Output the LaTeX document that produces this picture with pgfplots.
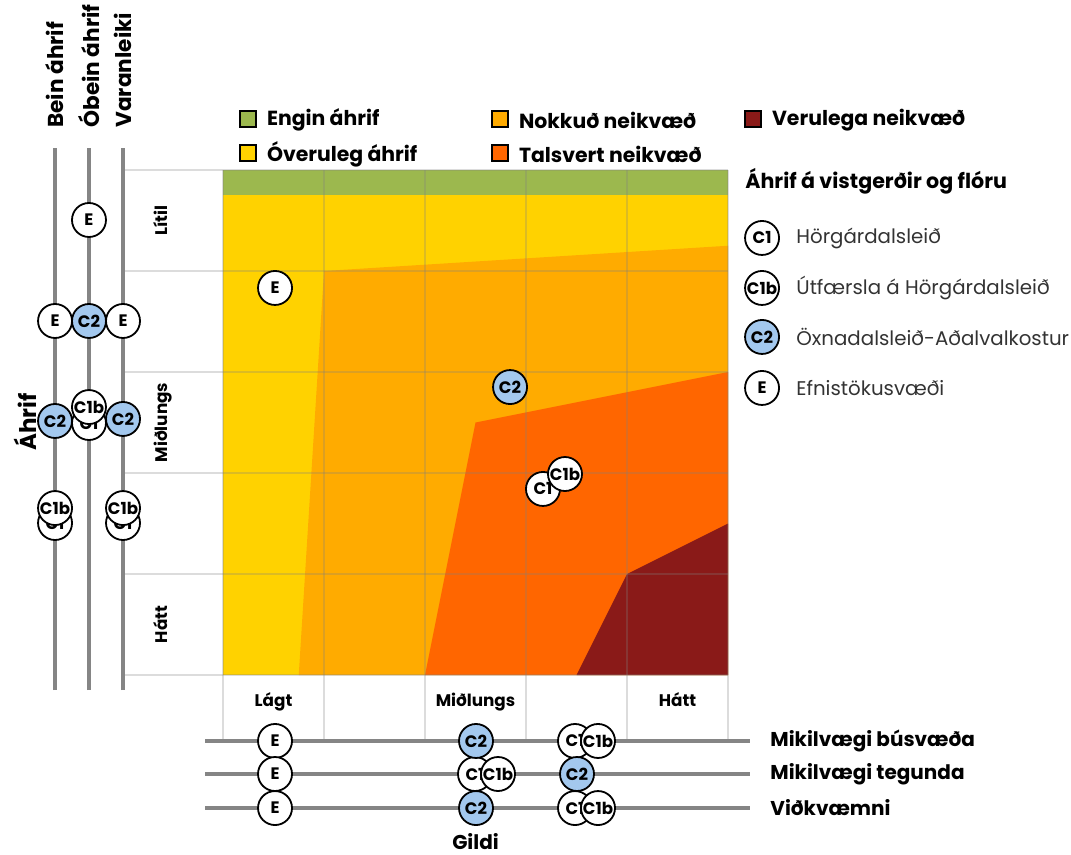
\documentclass[border=0pt]{standalone}
\usepackage{fontspec}
\setmainfont{Poppins}
\usepackage{pgfplots}
\pgfplotsset{compat=1.18}
\definecolor{cgreen}{HTML}{9CB84E}
\definecolor{cyellow}{HTML}{FFD200}
\definecolor{corange}{HTML}{FFAB00}
\definecolor{ctals}{HTML}{FF6600}
\definecolor{cdark}{HTML}{8A1A18}
\definecolor{cblue}{HTML}{A3C8EE}
\definecolor{cline}{HTML}{858585}
\definecolor{ctext}{HTML}{333333}
\pgfplotsset{
  bub/.style={only marks, mark=*, mark size=1pt, color=black,
    nodes near coords, point meta=explicit symbolic,
    every node near coord/.append style={circle, draw=black, line width=0.9pt,
      fill=#1, minimum size=17pt, inner sep=0pt, anchor=center, text=black,
      font=\bfseries\fontsize{8.3}{9}\selectfont}},
  sq/.style={only marks, mark=square*, mark size=4.1pt,
    mark options={fill=#1, draw=black, line width=1pt},
    nodes near coords, point meta=explicit symbolic,
    every node near coord/.append style={anchor=west, xshift=9pt, yshift=-0.6pt, inner sep=0pt,
      text=black, font=\bfseries\fontsize{10.2}{12}\selectfont}},
  grd/.style={black!50, opacity=0.28, line width=0.7pt},
  thk/.style={cline, line width=1.6pt},
}
\begin{document}
\begin{tikzpicture}
\begin{axis}[name=ax, scale only axis, width=535.5pt, height=427pt,
  xmin=-2.208, xmax=8.396, ymin=-1.772, ymax=6.683, hide axis, clip=false]

% impact zones
\addplot[fill=cyellow, draw=none] coordinates {(0,0) (5,0) (5,5) (0,5)};
\addplot[fill=corange, draw=none] coordinates {(0.75,0) (1,4) (5,4.25) (5,0)};
\addplot[fill=ctals, draw=none] coordinates {(2,0) (2.5,2.5) (5,3) (5,0)};
\addplot[fill=cdark, draw=none] coordinates {(3.5,0) (4,1) (5,1.5) (5,0)};
\addplot[fill=cgreen, draw=none] coordinates {(0,4.75) (5,4.75) (5,5) (0,5)};

% grid
\pgfplotsinvokeforeach{0,...,5}{
  \addplot[grd] coordinates {(#1,-0.653) (#1,5)};
  \addplot[grd] coordinates {(-0.97,#1) (5,#1)};
}

% side scales
\addplot[thk] coordinates {(-1.663,-0.149) (-1.663,5.218)};
\addplot[thk] coordinates {(-1.327,-0.149) (-1.327,5.218)};
\addplot[thk] coordinates {(-0.990,-0.149) (-0.990,5.218)};
\addplot[thk] coordinates {(-0.178,-0.653) (5.218,-0.653)};
\addplot[thk] coordinates {(-0.178,-0.980) (5.218,-0.980)};
\addplot[thk] coordinates {(-0.178,-1.317) (5.218,-1.317)};

% points
\addplot[bub=white] coordinates {
  (3.168,1.842) [C1]
  (-1.663,1.505) [C1] (-1.327,2.495) [C1] (-0.990,1.505) [C1]
  (3.485,-0.653) [C1] (2.495,-0.980) [C1] (3.485,-1.317) [C1]
  (5.337,4.327) [C1]
};
\addplot[bub=white] coordinates {
  (3.386,1.990) [C1b]
  (-1.663,1.653) [C1b] (-1.327,2.653) [C1b] (-0.990,1.653) [C1b]
  (3.713,-0.653) [C1b] (2.723,-0.980) [C1b] (3.713,-1.317) [C1b]
  (5.337,3.832) [C1b]
};
\addplot[bub=cblue] coordinates {
  (2.842,2.851) [C2]
  (-1.663,2.515) [C2] (-1.327,3.505) [C2] (-0.990,2.535) [C2]
  (2.505,-0.653) [C2] (3.505,-0.980) [C2] (2.505,-1.317) [C2]
  (5.337,3.347) [C2]
};
\addplot[bub=white] coordinates {
  (0.515,3.832) [E]
  (-1.663,3.505) [E] (-1.327,4.505) [E] (-0.990,3.505) [E]
  (0.515,-0.653) [E] (0.515,-0.980) [E] (0.515,-1.317) [E]
  (5.337,2.842) [E]
};

% colour legend
\addplot[sq=cgreen] coordinates {(0.2475,5.505) [Engin áhrif]};
\addplot[sq=cyellow] coordinates {(0.2475,5.168) [Óveruleg áhrif]};
\addplot[sq=corange] coordinates {(2.743,5.505) [Nokkuð neikvæð]};
\addplot[sq=ctals] coordinates {(2.743,5.168) [Talsvert neikvæð]};
\addplot[sq=cdark] coordinates {(5.248,5.505) [Verulega neikvæð]};

% texts
\node[anchor=west, inner sep=0pt, font=\bfseries\fontsize{10.3}{12}\selectfont] at (axis cs:5.168,4.891) {Áhrif á vistgerðir og flóru};
\begin{scope}[every node/.style={anchor=west, inner sep=0pt, text=ctext, font=\fontsize{9.9}{12}\selectfont}]
\node at (axis cs:5.673,4.327) {Hörgárdalsleið};
\node at (axis cs:5.673,3.832) {Útfærsla á Hörgárdalsleið};
\node at (axis cs:5.673,3.347) {Öxnadalsleið-Aðalvalkostur};
\node at (axis cs:5.673,2.842) {Efnistökusvæði};
\end{scope}
\begin{scope}[every node/.style={anchor=base, inner sep=0pt, font=\bfseries\fontsize{8.4}{10}\selectfont}]
\node[rotate=90] at (axis cs:-0.545,4.5) {Lítil};
\node[rotate=90] at (axis cs:-0.545,2.5) {Miðlungs};
\node[rotate=90] at (axis cs:-0.545,0.5) {Hátt};
\node at (axis cs:0.5,-0.315) {Lágt};
\node at (axis cs:2.5,-0.315) {Miðlungs};
\node at (axis cs:4.5,-0.315) {Hátt};
\end{scope}
\begin{scope}[every node/.style={font=\bfseries\fontsize{10}{12}\selectfont}]
\node[anchor=west, inner sep=0pt] at (axis cs:5.416,-0.653) {Mikilvægi búsvæða};
\node[anchor=west, inner sep=0pt] at (axis cs:5.416,-0.980) {Mikilvægi tegunda};
\node[anchor=west, inner sep=0pt] at (axis cs:5.416,-1.317) {Viðkvæmni};
\node[anchor=base, inner sep=0pt] at (axis cs:2.5,-1.73) {Gildi};
\node[rotate=90, font=\bfseries\fontsize{11.5}{13}\selectfont] at (axis cs:-1.96,2.505) {Áhrif};
\end{scope}
\begin{scope}[every node/.style={rotate=90, anchor=west, inner sep=0pt, font=\bfseries\fontsize{10.8}{12}\selectfont}]
\node at (axis cs:-1.663,5.416) {Bein áhrif};
\node at (axis cs:-1.327,5.416) {Óbein áhrif};
\node at (axis cs:-0.990,5.416) {Varanleiki};
\end{scope}
\end{axis}
\pgfresetboundingbox
\path (ax.south west) rectangle (ax.north east);
\end{tikzpicture}
\end{document}
